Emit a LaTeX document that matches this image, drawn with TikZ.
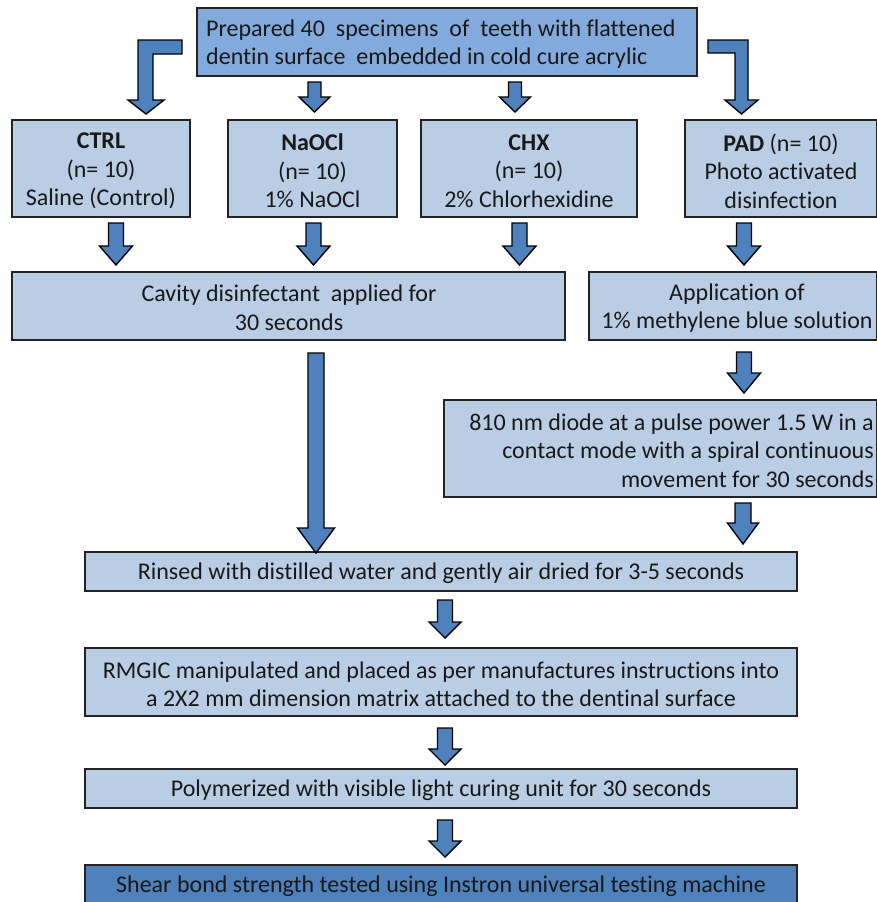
\documentclass[tikz,border=0pt]{standalone}
\usepackage{fontspec}
\setmainfont[Ligatures=NoCommon]{Carlito}
\usetikzlibrary{calc}
\definecolor{lightbox}{RGB}{185,205,229}
\definecolor{topbox}{RGB}{130,170,220}
\definecolor{darkbox}{RGB}{79,129,189}
\definecolor{arrowblue}{RGB}{79,129,189}
\definecolor{edge}{RGB}{35,35,35}
\tikzset{
  box/.style={draw=edge, line width=1.3pt, fill=lightbox},
  txt/.style={inner sep=0pt, align=center, text=black!90, yshift=-2pt, font=\fontsize{24}{28.5}\selectfont},
  barrow/.style={draw=black, line width=1.4pt, fill=arrowblue, line join=miter},
}
% block arrow between two named coordinates: #1 shaft half width, #2 head half width, #3 head length
\newcommand{\blockarrow}[5]{%
  \path[barrow] let \p1=(#4), \p2=(#5) in
    (\x1-#1pt,\y1) -- (\x1+#1pt,\y1) -- (\x1+#1pt,\y2+#3pt) -- (\x1+#2pt,\y2+#3pt)
    -- (\x1,\y2) -- (\x1-#2pt,\y2+#3pt) -- (\x1-#1pt,\y2+#3pt) -- cycle;}
\begin{document}
\begin{tikzpicture}[x=1pt,y=-1pt]
\useasboundingbox (0,0) rectangle (877,902);
% boxes
\draw[box, fill=topbox] (197,8) rectangle (697,76);
\node[txt, align=left, anchor=west] (top) at (206,42) {Prepared 40\ \ specimens\ \ of\ \ teeth with flattened\\dentin surface\ \ embedded in cold cure acrylic};
\draw[box] (12,120) rectangle (190,217);
\node[txt] (ctrl) at (101,169) {\textbf{CTRL}\\(n= 10)\\Saline (Control)};
\draw[box] (228,120) rectangle (397,217);
\node[txt] (naocl) at (312.5,169) {\textbf{NaOCl}\\(n= 10)\\1\% NaOCl};
\draw[box] (421,120) rectangle (637,217);
\node[txt] (chx) at (529,169) {\textbf{CHX}\\(n= 10)\\2\% Chlorhexidine};
\draw[box] (685,120) rectangle (876.5,217);
\node[txt] (pad) at (781,169) {\textbf{PAD} (n= 10)\\Photo activated\\disinfection};
\draw[box] (12,272) rectangle (565,340);
\node[txt] (cav) at (289,306) {Cavity disinfectant\ \ applied for\\30 seconds};
\draw[box] (589,272) rectangle (876.5,340);
\node[txt] (app) at (737,306) {Application of\\1\% methylene blue solution};
\draw[box] (444,400) rectangle (876.5,497);
\node[txt, align=right, anchor=east] (diode) at (874,448.5) {810 nm diode at a pulse power 1.5 W in a\\contact mode with a spiral continuous\\movement for 30 seconds};
\draw[box] (85,552) rectangle (797,591);
\node[txt] (rinse) at (441,571.5) {Rinsed with distilled water and gently air dried for 3-5 seconds};
\draw[box] (85,648) rectangle (797,716);
\node[txt] (rmgic) at (441,682) {RMGIC manipulated and placed as per manufactures instructions into\\a 2X2 mm dimension matrix attached to the dentinal surface};
\draw[box] (85,769) rectangle (797,808);
\node[txt] (poly) at (441,788.5) {Polymerized with visible light curing unit for 30 seconds};
\draw[box, fill=darkbox] (85,865) rectangle (797,906);
\node[txt] (shear) at (441,884.5) {Shear bond strength tested using Instron universal testing machine};
% bent arrows
\path[barrow] (182,40) -- (138,40) -- (138,100) -- (128,100) -- (146,114) -- (164,100) -- (153,100) -- (153,54) -- (182,54) -- cycle;
\path[barrow] (708,40) -- (748,40) -- (748,100) -- (758,100) -- (741.5,114) -- (725,100) -- (735,100) -- (735,53) -- (708,53) -- cycle;
% straight arrows: start/tip coordinates
\coordinate (a1s) at (314.5,82);  \coordinate (a1t) at (314.5,112);
\coordinate (a2s) at (515,82);    \coordinate (a2t) at (515,112);
\coordinate (b1s) at (116,223);   \coordinate (b1t) at (116,265);
\coordinate (b2s) at (313.5,223); \coordinate (b2t) at (313.5,265);
\coordinate (b3s) at (519.5,223); \coordinate (b3t) at (519.5,265);
\coordinate (b4s) at (744,223);   \coordinate (b4t) at (744,265);
\coordinate (c1s) at (744,352);   \coordinate (c1t) at (744,393);
\coordinate (d1s) at (743,503);   \coordinate (d1t) at (743,544);
\coordinate (e1s) at (316,353);   \coordinate (e1t) at (316,553);
\coordinate (f1s) at (445,600);   \coordinate (f1t) at (445,638);
\coordinate (g1s) at (445,728);   \coordinate (g1t) at (445,765);
\coordinate (h1s) at (445,820);   \coordinate (h1t) at (445,857);
\blockarrow{6.5}{15.5}{15}{a1s}{a1t}
\blockarrow{6.5}{15.5}{15}{a2s}{a2t}
\blockarrow{7.5}{16.5}{19}{b1s}{b1t}
\blockarrow{7.5}{16.5}{19}{b2s}{b2t}
\blockarrow{7.5}{16.5}{19}{b3s}{b3t}
\blockarrow{7.5}{16.5}{19}{b4s}{b4t}
\blockarrow{7.5}{16.5}{20}{c1s}{c1t}
\blockarrow{8}{15.5}{21}{d1s}{d1t}
\blockarrow{8}{18.5}{25}{e1s}{e1t}
\blockarrow{7.5}{16}{16}{f1s}{f1t}
\blockarrow{7.5}{16}{16}{g1s}{g1t}
\blockarrow{7.5}{16}{16}{h1s}{h1t}
\end{tikzpicture}
\end{document}
